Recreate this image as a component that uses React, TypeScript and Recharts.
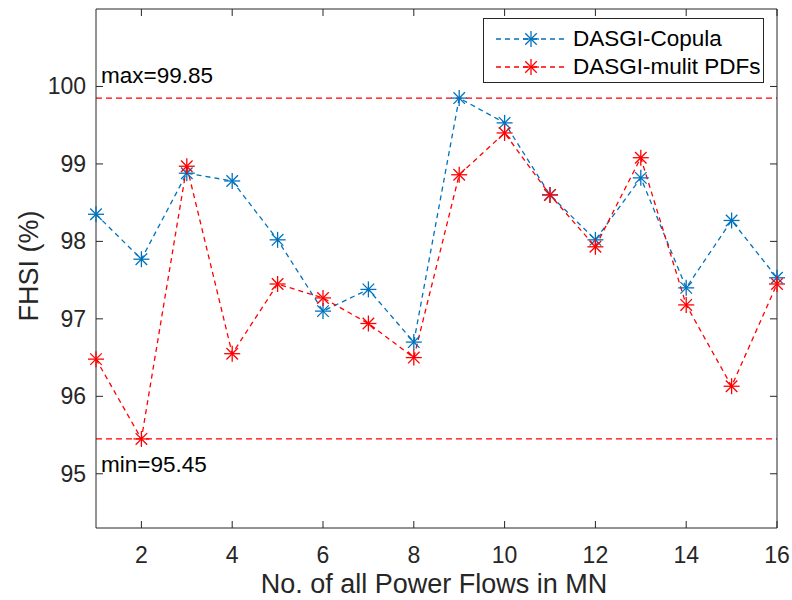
import React from 'react'
import { LineChart, Line, XAxis, YAxis, ReferenceLine, Legend } from 'recharts'

// values
const flows = [1, 2, 3, 4, 5, 6, 7, 8, 9, 10, 11, 12, 13, 14, 15, 16]
const copula = [98.35, 97.77, 98.88, 98.78, 98.02, 97.1, 97.38, 96.7, 99.85, 99.53, 98.6, 98.02, 98.82, 97.4, 98.27, 97.53]
const multiPdfs = [96.48, 95.45, 98.97, 96.55, 97.45, 97.27, 96.94, 96.5, 98.86, 99.4, 98.6, 97.93, 99.08, 97.18, 96.13, 97.45]
const xTicks = [2, 4, 6, 8, 10, 12, 14, 16]
const yTicks = [95, 96, 97, 98, 99, 100]
const maxVal = 99.85
const minVal = 95.45

const data = flows.map((x, i) => ({ x, copula: copula[i], multi: multiPdfs[i] }))

const AXIS = '#262626'
const BLUE = '#0072BD'
const RED = '#FF0000'
const FONT = '"Liberation Sans", Arial, sans-serif'
const PLOT_TOP = 9
const PLOT_RIGHT = 777
const TICK = 7

function Star({ cx, cy, color }: { cx: number; cy: number; color: string }) {
  const r = 8
  const d = r * 0.72
  return (
    <g stroke={color} strokeWidth={1.3}>
      <line x1={cx - r} y1={cy} x2={cx + r} y2={cy} />
      <line x1={cx} y1={cy - r} x2={cx} y2={cy + r} />
      <line x1={cx - d} y1={cy - d} x2={cx + d} y2={cy + d} />
      <line x1={cx - d} y1={cy + d} x2={cx + d} y2={cy - d} />
    </g>
  )
}

function BottomTick(props: any) {
  const { x, y, payload } = props
  return (
    <g>
      <line x1={x} x2={x} y1={y} y2={y - TICK} stroke={AXIS} />
      <line x1={x} x2={x} y1={PLOT_TOP} y2={PLOT_TOP + TICK} stroke={AXIS} />
      <text x={x} y={y + 35} textAnchor="middle" fontSize={23} fill={AXIS} fontFamily={FONT}>
        {payload.value}
      </text>
    </g>
  )
}

function LeftTick(props: any) {
  const { x, y, payload } = props
  return (
    <g>
      <line x1={x} x2={x + TICK} y1={y} y2={y} stroke={AXIS} />
      <line x1={PLOT_RIGHT} x2={PLOT_RIGHT - TICK} y1={y} y2={y} stroke={AXIS} />
      <text x={x - 10} y={y + 8} textAnchor="end" fontSize={23} fill={AXIS} fontFamily={FONT}>
        {payload.value}
      </text>
    </g>
  )
}

function LegendRow({ color, label, top }: { color: string; label: string; top: number }) {
  return (
    <div style={{ position: 'absolute', left: 0, top, height: 28, display: 'flex', alignItems: 'center' }}>
      <svg width={89} height={28} style={{ display: 'block' }}>
        <line x1={12} x2={80} y1={14} y2={14} stroke={color} strokeWidth={1.3} strokeDasharray="5 4" />
        <Star cx={47} cy={14} color={color} />
      </svg>
      <span style={{ fontSize: 22.5, color: '#000', whiteSpace: 'nowrap' }}>{label}</span>
    </div>
  )
}

function LegendBox() {
  return (
    <div
      style={{
        position: 'relative',
        boxSizing: 'border-box',
        width: 281,
        height: 65,
        border: `1px solid ${AXIS}`,
        background: '#fff',
        fontFamily: FONT,
      }}
    >
      <LegendRow color={BLUE} label="DASGI-Copula" top={6} />
      <LegendRow color={RED} label="DASGI-mulit PDFs" top={34} />
    </div>
  )
}

export default function App() {
  return (
    <div style={{ position: 'absolute', left: 0, top: 0, width: 792, height: 600, background: '#fff' }}>
      <LineChart
        width={792}
        height={600}
        data={data}
        margin={{ top: 8, right: 14, bottom: 32, left: 36 }}
        style={{ fontFamily: FONT }}
      >
        <XAxis
          dataKey="x"
          type="number"
          domain={[1, 16]}
          ticks={xTicks}
          interval={0}
          height={40}
          tickLine={false}
          tickSize={0}
          tickMargin={0}
          axisLine={{ stroke: AXIS }}
          tick={(p: any) => <BottomTick {...p} />}
          label={{
            content: () => (
              <text x={434} y={593} textAnchor="middle" fontSize={27} fill={AXIS} fontFamily={FONT}>
                No. of all Power Flows in MN
              </text>
            ),
          }}
        />
        <XAxis xAxisId="top" orientation="top" type="number" domain={[1, 16]} height={1} tick={false} tickLine={false} axisLine={{ stroke: AXIS }} />
        <YAxis
          type="number"
          domain={[94.3, 101]}
          ticks={yTicks}
          interval={0}
          width={60}
          tickLine={false}
          tickSize={0}
          tickMargin={0}
          axisLine={{ stroke: AXIS }}
          tick={(p: any) => <LeftTick {...p} />}
          label={{
            content: () => (
              <text x={38} y={266} transform="rotate(-90, 38, 266)" textAnchor="middle" fontSize={27} fill={AXIS} fontFamily={FONT}>
                FHSI (%)
              </text>
            ),
          }}
        />
        <YAxis yAxisId="right" orientation="right" type="number" domain={[94.3, 101]} width={1} tick={false} tickLine={false} axisLine={{ stroke: AXIS }} />

        <ReferenceLine
          y={maxVal}
          stroke={RED}
          strokeWidth={1.3}
          strokeDasharray="6 4"
          label={{
            content: (p: any) => (
              <text x={(p.viewBox?.x ?? 96) + 5} y={(p.viewBox?.y ?? 98) - 15} fontSize={22.5} fill="#000" fontFamily={FONT}>
                {`max=${maxVal}`}
              </text>
            ),
          }}
        />
        <ReferenceLine
          y={minVal}
          stroke={RED}
          strokeWidth={1.3}
          strokeDasharray="6 4"
          label={{
            content: (p: any) => (
              <text x={(p.viewBox?.x ?? 96) + 5} y={(p.viewBox?.y ?? 439) + 33} fontSize={22.5} fill="#000" fontFamily={FONT}>
                {`min=${minVal}`}
              </text>
            ),
          }}
        />

        <Line
          dataKey="copula"
          name="DASGI-Copula"
          stroke={BLUE}
          strokeWidth={1.3}
          strokeDasharray="5 4"
          isAnimationActive={false}
          dot={(p: any) => <Star key={`c${p.index}`} cx={p.cx} cy={p.cy} color={BLUE} />}
          activeDot={false}
        />
        <Line
          dataKey="multi"
          name="DASGI-mulit PDFs"
          stroke={RED}
          strokeWidth={1.3}
          strokeDasharray="5 4"
          isAnimationActive={false}
          dot={(p: any) => <Star key={`m${p.index}`} cx={p.cx} cy={p.cy} color={RED} />}
          activeDot={false}
        />

        <Legend
          layout="horizontal"
          verticalAlign="middle"
          align="center"
          wrapperStyle={{ left: 483, top: 18, width: 281, height: 65, right: 'auto', bottom: 'auto' }}
          content={() => <LegendBox />}
        />
      </LineChart>
    </div>
  )
}
